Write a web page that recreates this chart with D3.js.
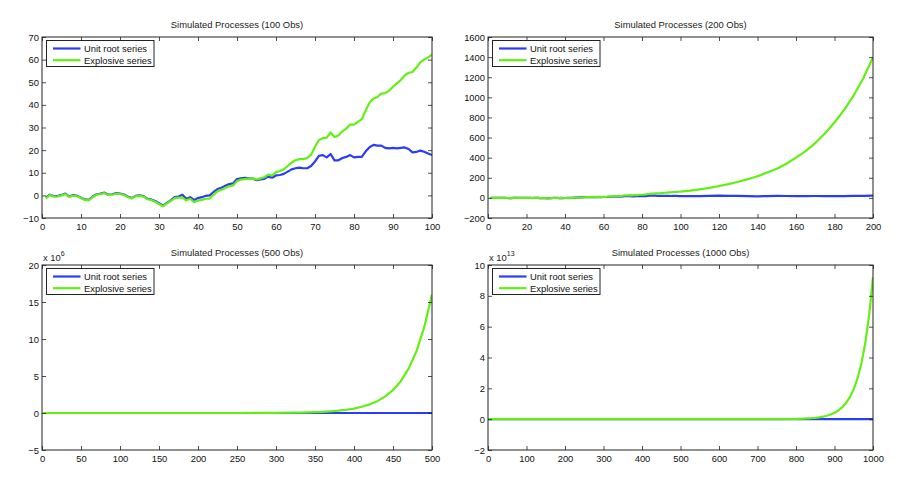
<!DOCTYPE html>
<html>
<head>
<meta charset="utf-8">
<script src="https://cdn.jsdelivr.net/npm/d3@7"></script>
<style>
  body { margin: 0; background: #fff; }
  svg { display: block; font-family: "Liberation Sans", Arial, Helvetica, sans-serif; }
</style>
</head>
<body>
<svg id="chart" width="905" height="483"></svg>
<script>
// ---------------- DATA ----------------
const seriesNames = ["Unit root series", "Explosive series"];
const titles = ["Simulated Processes (100 Obs)", "Simulated Processes (200 Obs)",
                "Simulated Processes (500 Obs)", "Simulated Processes (1000 Obs)"];

// Panel 1: 100 observations (t = 1..100)
const obs100 = d3.range(1, 101);
const unitRoot100 = [
  -1.0, 0.3, -0.3, -0.3, 0.2, 0.8, -0.5, 0.1, -0.2, -1.0,
  -1.8, -2.0, -0.5, 0.5, 0.8, 1.2, 0.3, 0.5, 1.0, 0.8,
  0.4, -0.5, -1.2, -0.2, 0.0, -0.3, -1.5, -1.8, -2.5, -3.5,
  -4.5, -3.3, -2.2, -0.8, -0.5, 0.3, -1.5, -0.8, -2.0, -1.2,
  -0.8, -0.2, 0.0, 1.5, 2.8, 3.4, 4.3, 5.0, 5.3, 7.2,
  7.5, 7.8, 7.5, 7.5, 6.7, 7.0, 7.3, 8.3, 7.8, 8.8,
  9.0, 9.5, 10.5, 11.5, 12.0, 12.3, 12.0, 12.0, 13.0, 15.0,
  17.5, 17.8, 16.8, 18.3, 15.5, 15.5, 16.5, 17.0, 17.8, 16.8,
  17.0, 17.0, 19.5, 21.3, 22.3, 22.0, 22.0, 21.0, 20.8, 21.0,
  20.8, 21.0, 21.2, 20.5, 19.0, 19.2, 19.8, 19.3, 18.5, 17.8
];
const explosive100 = [
  -1.4, 0.1, -0.5, -0.5, 0.0, 0.6, -0.7, -0.1, -0.4, -1.2,
  -2.0, -2.2, -0.7, 0.3, 0.6, 1.0, 0.1, 0.3, 0.8, 0.6,
  0.2, -0.7, -1.4, -0.4, -0.2, -0.5, -1.7, -2.0, -2.8, -3.8,
  -4.8, -3.6, -2.5, -1.2, -1.0, -1.0, -2.2, -1.5, -3.0, -2.3,
  -2.0, -1.5, -1.4, 0.3, 1.8, 2.5, 3.3, 4.0, 4.4, 6.3,
  7.0, 7.2, 7.4, 7.5, 7.0, 7.5, 8.0, 9.2, 8.8, 10.3,
  10.8, 11.5, 13.0, 14.5, 15.5, 16.0, 16.0, 16.5, 18.0, 21.5,
  24.5, 25.3, 25.5, 27.8, 25.8, 26.5, 28.3, 29.5, 31.3, 31.3,
  32.5, 33.7, 37.5, 41.0, 42.8, 43.5, 45.0, 45.2, 46.3, 48.0,
  49.5, 51.0, 53.0, 54.2, 54.5, 56.5, 58.8, 60.0, 61.0, 62.2
];

// Panel 2: 200 observations (first 100 as above, then read every 5 obs)
const obs200Ext = [105, 110, 115, 120, 125, 130, 135, 140, 145, 150,
                   155, 160, 165, 170, 175, 180, 185, 190, 195, 200];
const unitRoot200Ext = [17, 18, 20, 22, 21, 20, 18, 16, 18, 20,
                        19, 18, 18, 19, 18, 17, 18, 20, 21, 23];
const explosive200Ext = [72, 85, 100, 118, 137, 160, 186, 215, 252, 290,
                         340, 400, 465, 545, 640, 750, 875, 1020, 1190, 1400];

// Panel 3: 500 observations (read at sample points)
const obs500 = [1, 50, 100, 150, 200, 250, 300, 320, 330, 340, 350, 360, 370, 380,
                390, 400, 410, 420, 430, 440, 450, 460, 470, 480, 490, 500];
const unitRoot500 = [-1, 5, 18, 10, 25, 30, 20, 15, 18, 22, 25, 30, 28, 26,
                     30, 32, 35, 30, 28, 33, 36, 40, 38, 35, 37, 40];
const explosive500 = [0, 0, 0, 0, 0, 0, 0.02e6, 0.045e6, 0.06e6, 0.085e6, 0.12e6, 0.16e6,
                      0.23e6, 0.32e6, 0.44e6, 0.6e6, 0.84e6, 1.17e6, 1.6e6, 2.25e6,
                      3.1e6, 4.3e6, 6.0e6, 8.3e6, 11.6e6, 16.0e6];

// Panel 4: 1000 observations (read at sample points)
const obs1000 = [1, 100, 200, 300, 400, 500, 600, 700, 750, 800, 820, 830, 840, 850, 860,
                 870, 880, 890, 900, 910, 920, 930, 940, 950, 960, 970, 980, 990, 1000];
const unitRoot1000 = [0, 8, 15, 20, 12, 25, 30, 22, 28, 35, 30, 33, 36, 40, 38,
                      35, 37, 40, 42, 38, 36, 40, 44, 42, 40, 38, 41, 43, 45];
const explosive1000 = [0, 0, 0, 0, 0, 0, 0, 0.002e13, 0.006e13, 0.018e13, 0.034e13, 0.047e13,
                       0.064e13, 0.087e13, 0.12e13, 0.16e13, 0.22e13, 0.30e13, 0.41e13,
                       0.56e13, 0.77e13, 1.05e13, 1.43e13, 1.95e13, 2.66e13, 3.63e13,
                       4.95e13, 6.75e13, 9.2e13];

// Axis ticks
const xTicks100 = d3.range(0, 101, 10);
const yTicks100 = d3.range(-10, 71, 10);
const xTicks200 = d3.range(0, 201, 20);
const yTicks200 = d3.range(-200, 1601, 200);
const xTicks500 = d3.range(0, 501, 50);
const yTicks500 = [-5e6, 0, 5e6, 10e6, 15e6, 20e6];
const xTicks1000 = d3.range(0, 1001, 100);
const yTicks1000 = [-2e13, 0, 2e13, 4e13, 6e13, 8e13, 10e13];

// ---------------- CHART ----------------
const colors = ["#2a3cf8", "#62f014"];
const fontSize = "9.4px";
const svg = d3.select("#chart");

const panels = [
  { title: titles[0], box: [42, 37, 432, 218], xDom: [0, 100], yDom: [-10, 70],
    xTicks: xTicks100, yTicks: yTicks100, exp: null,
    series: [obs100.map((t, i) => [t, unitRoot100[i]]), obs100.map((t, i) => [t, explosive100[i]])] },
  { title: titles[1], box: [488, 37, 873, 218], xDom: [0, 200], yDom: [-200, 1600],
    xTicks: xTicks200, yTicks: yTicks200, exp: null,
    series: [obs100.map((t, i) => [t, unitRoot100[i]]).concat(obs200Ext.map((t, i) => [t, unitRoot200Ext[i]])),
             obs100.map((t, i) => [t, explosive100[i]]).concat(obs200Ext.map((t, i) => [t, explosive200Ext[i]]))] },
  { title: titles[2], box: [42, 265, 432, 450], xDom: [0, 500], yDom: [-5e6, 20e6],
    xTicks: xTicks500, yTicks: yTicks500, exp: { base: 1e6, label: "6" },
    series: [obs500.map((t, i) => [t, unitRoot500[i]]), obs500.map((t, i) => [t, explosive500[i]])] },
  { title: titles[3], box: [488, 265, 873, 450], xDom: [0, 1000], yDom: [-2e13, 10e13],
    xTicks: xTicks1000, yTicks: yTicks1000, exp: { base: 1e13, label: "13" },
    series: [obs1000.map((t, i) => [t, unitRoot1000[i]]), obs1000.map((t, i) => [t, explosive1000[i]])] }
];

const tickLen = 4;
panels.forEach((p, pi) => {
  const [x0, y0, x1, y1] = p.box;
  const x = d3.scaleLinear().domain(p.xDom).range([x0, x1]);
  const y = d3.scaleLinear().domain(p.yDom).range([y1, y0]);
  const g = svg.append("g");

  const clipId = "clip" + pi;
  g.append("clipPath").attr("id", clipId).append("rect")
    .attr("x", x0).attr("y", y0).attr("width", x1 - x0).attr("height", y1 - y0);

  // lines
  const line = d3.line().x(d => x(d[0])).y(d => y(d[1]));
  p.series.forEach((s, si) => {
    g.append("path").datum(s)
      .attr("d", line)
      .attr("fill", "none")
      .attr("stroke", colors[si])
      .attr("stroke-width", 2.2)
      .attr("stroke-linejoin", "round")
      .attr("clip-path", `url(#${clipId})`);
  });

  const fmt = p.exp ? (v => d3.format("d")(Math.round(v / p.exp.base))) : d3.format("d");

  // axes (ticks inward) bottom / left with labels
  const axB = g.append("g").attr("transform", `translate(0,${y1})`)
    .call(d3.axisBottom(x).tickValues(p.xTicks).tickSizeInner(-tickLen).tickSizeOuter(0).tickPadding(5).tickFormat(d3.format("d")));
  const axL = g.append("g").attr("transform", `translate(${x0},0)`)
    .call(d3.axisLeft(y).tickValues(p.yTicks).tickSizeInner(-tickLen).tickSizeOuter(0).tickPadding(3).tickFormat(v => {
      const s = fmt(v);
      return s.replace("-", "\u2212");
    }));
  const axT = g.append("g").attr("transform", `translate(0,${y0})`)
    .call(d3.axisTop(x).tickValues(p.xTicks).tickSizeInner(-tickLen).tickSizeOuter(0).tickFormat(""));
  const axR = g.append("g").attr("transform", `translate(${x1},0)`)
    .call(d3.axisRight(y).tickValues(p.yTicks).tickSizeInner(-tickLen).tickSizeOuter(0).tickFormat(""));
  [axB, axL, axT, axR].forEach(a => {
    a.select(".domain").remove();
    a.selectAll("line").attr("stroke", "#222").attr("stroke-width", 0.8);
    a.selectAll("text").attr("fill", "#111").style("font-size", fontSize).style("font-family", "\"Liberation Sans\", Arial, sans-serif");
  });
  axB.selectAll("text").attr("dy", "0.71em");

  // box
  g.append("rect").attr("x", x0).attr("y", y0).attr("width", x1 - x0).attr("height", y1 - y0)
    .attr("fill", "none").attr("stroke", "#222").attr("stroke-width", 1);

  // title
  g.append("text").attr("x", (x0 + x1) / 2).attr("y", y0 - 9)
    .attr("text-anchor", "middle").attr("fill", "#222").style("font-size", fontSize)
    .text(p.title);

  // exponent label
  if (p.exp) {
    const t = g.append("text").attr("x", x0 + 1).attr("y", y0 - 4).attr("fill", "#222").style("font-size", "9.4px");
    t.append("tspan").text("x 10");
    t.append("tspan").attr("dy", -5).style("font-size", "7px").text(p.exp.label);
  }

  // legend
  const lx = x0 + 4.5, ly = y0 + 3.5, lw = 107.5, lh = 26;
  const lg = g.append("g");
  lg.append("rect").attr("x", lx).attr("y", ly).attr("width", lw).attr("height", lh)
    .attr("fill", "#fff").attr("stroke", "#222").attr("stroke-width", 1);
  seriesNames.forEach((name, i) => {
    const yy = ly + 8 + i * 11.7;
    lg.append("line").attr("x1", lx + 6.5).attr("x2", lx + 34).attr("y1", yy).attr("y2", yy)
      .attr("stroke", colors[i]).attr("stroke-width", 2.2);
    lg.append("text").attr("x", lx + 37.5).attr("y", yy + 3.4).attr("fill", "#111")
      .style("font-size", fontSize).text(name);
  });
});
</script>
</body>
</html>
